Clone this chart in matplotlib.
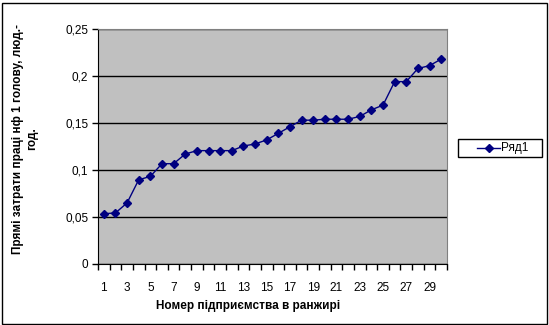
import numpy as np
import matplotlib.pyplot as plt
from matplotlib.patches import Rectangle
from matplotlib.lines import Line2D

plt.rcParams['font.family'] = ['Liberation Sans', 'DejaVu Sans']

# дані
firms = np.arange(1, 31)
values = [0.0535, 0.0543, 0.065, 0.0896, 0.0932, 0.1067, 0.1067, 0.117, 0.1206, 0.1206,
          0.1206, 0.1206, 0.1255, 0.1277, 0.132, 0.139, 0.146, 0.153, 0.153, 0.154,
          0.154, 0.154, 0.157, 0.164, 0.169, 0.194, 0.194, 0.208, 0.211, 0.218]
series_name = 'Ряд1'
y_ticks = [0, 0.05, 0.1, 0.15, 0.2, 0.25]
y_tick_labels = ['0', '0,05', '0,1', '0,15', '0,2', '0,25']
x_label = 'Номер підприємства в ранжирі'
y_label = 'Прямі затрати праці нф 1 голову, люд.-\nгод.'

W, H = 549, 325
fig = plt.figure(figsize=(W / 100, H / 100), dpi=100)
fig.patch.set_facecolor('white')

# рамка навколо всієї діаграми
fig.patches.append(Rectangle((1.5 / W, 1.5 / H), (W - 4) / W, (H - 4) / H,
                             transform=fig.transFigure, fill=False,
                             edgecolor='black', linewidth=1))

ax = fig.add_axes([98 / W, (H - 264) / H, 349 / W, 235 / H])
ax.set_facecolor('#C0C0C0')

line, = ax.plot(firms, values, color='#000080', marker='D', markersize=4.5,
                linewidth=1, label=series_name)

ax.set_xlim(0.5, 30.5)
ax.set_ylim(0, 0.25)
ax.set_yticks(y_ticks)
ax.set_yticklabels(y_tick_labels)
ax.yaxis.grid(True, color='black', linewidth=1)
ax.set_axisbelow(True)

# мітки між категоріями, підписи через одну
ax.set_xticks(np.arange(0.5, 31, 1))
ax.set_xticklabels([])
ax.set_xticks(firms[::2], minor=True)
ax.set_xticklabels([str(f) for f in firms[::2]], minor=True)
ax.tick_params(axis='x', which='minor', length=0, pad=13, labelsize=8.5)
ax.tick_params(axis='x', which='major', length=4, width=1, direction='out')
ax.tick_params(axis='y', length=4, width=1, direction='out', labelsize=8.5, pad=3)

for s in ['top', 'right']:
    ax.spines[s].set_color('#808080')
for s in ['left', 'bottom']:
    ax.spines[s].set_color('black')

fig.text(248 / W, 1 - 306 / H, x_label, ha='center', va='center',
         fontsize=8.5, fontweight='bold')
fig.text(25 / W, 1 - 139 / H, y_label, ha='center', va='center', rotation=90,
         fontsize=8.5, fontweight='bold', multialignment='center', linespacing=1.3)

# легенда як в Excel: широка рамка, зразок лінії ближче до тексту
fig.patches.append(Rectangle((457.5 / W, 1 - 157 / H), 84 / W, 18 / H,
                             transform=fig.transFigure, fill=False,
                             edgecolor='black', linewidth=1))
fig.add_artist(Line2D([477 / W, 500 / W], [1 - 148 / H, 1 - 148 / H],
                      transform=fig.transFigure, color=line.get_color(),
                      linewidth=1))
fig.add_artist(Line2D([488.5 / W], [1 - 148 / H], transform=fig.transFigure,
                      color=line.get_color(), marker='D', markersize=4.5,
                      linestyle='none'))
fig.text(501 / W, 1 - 148 / H, series_name, ha='left', va='center', fontsize=8.5)

fig.savefig('out.png', dpi=100)
